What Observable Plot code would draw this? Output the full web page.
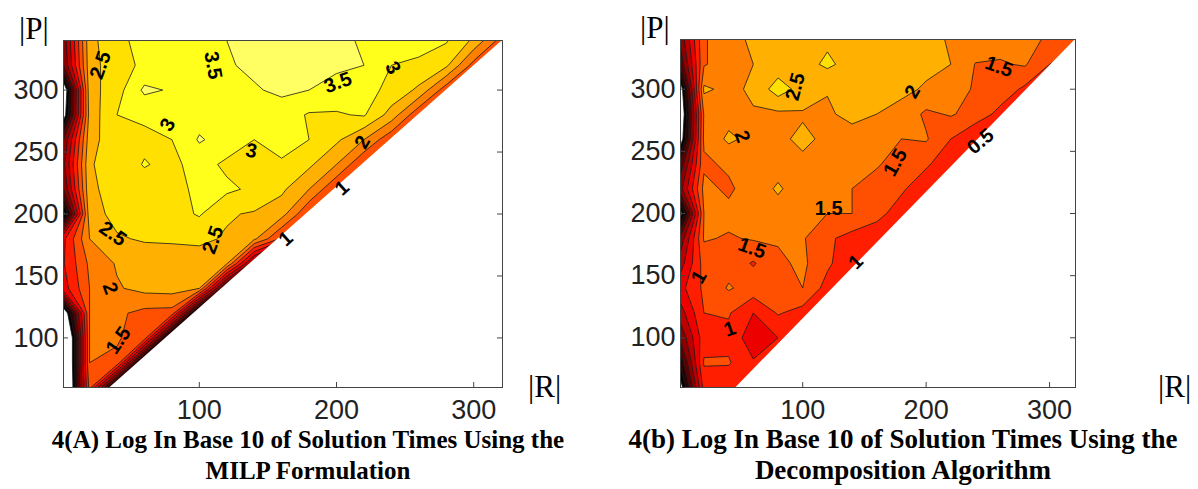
<!DOCTYPE html>
<html><head><meta charset="utf-8">
<script src="https://cdn.jsdelivr.net/npm/d3@7"></script>
<script src="https://cdn.jsdelivr.net/npm/@observablehq/plot@0.6"></script>
<style>
body{margin:0;background:#fff;width:1198px;height:489px;overflow:hidden;position:relative}
.chart{position:absolute;top:0}
#overlay{position:absolute;left:0;top:0;pointer-events:none}
</style></head><body>
<div id="A" class="chart" style="left:0px"></div>
<div id="B" class="chart" style="left:600px"></div>
<svg id="overlay" width="1198" height="489"></svg>
<script>
// regular grid: |R| = 0,20,...,320 (columns), |P| = 340,320,...,60 (rows)
const Rvals = d3.range(0, 321, 20);
const Pvals = d3.range(340, 59, -20);
// log10 solution times, MILP formulation
const zMILP = [
 [-1.0,2.35,2.85,3.2,3.45,3.4,3.5,3.7,3.75,3.7,3.6,3.45,3.4,3.2,3.05,2.4,1.3],
 [-1.2,2.3,2.8,3.1,3.3,3.35,3.45,3.6,3.7,3.65,3.6,3.5,3.0,2.9,2.6,1.3,1.2],
 [-3.5,2.3,2.8,3.6,3.45,3.3,3.4,3.45,3.6,3.5,3.3,3.2,2.85,2.4,1.2,1.1,1.1],
 [-3.2,2.2,3.0,3.08,3.2,3.3,3.3,3.3,3.25,2.95,2.95,3.05,2.3,1.1,1.0,1.0,1.0],
 [-1.2,2.3,2.85,2.9,3.0,3.55,3.3,3.0,3.15,3.0,2.6,2.0,1.1,1.0,1.0,1.0,1.0],
 [-0.8,2.45,2.75,3.03,2.88,3.2,2.9,2.8,2.95,2.6,2.0,1.0,1.0,1.0,1.0,1.0,1.0],
 [-1.2,2.4,2.7,2.8,2.85,3.1,3.1,2.9,2.6,2.0,1.0,1.0,1.0,1.0,1.0,1.0,1.0],
 [-3.0,2.3,2.65,2.75,2.8,3.05,2.55,2.45,2.2,1.0,1.0,1.0,1.0,1.0,1.0,1.0,1.0],
 [0.3,2.0,2.45,2.55,2.55,2.6,2.45,2.1,0.9,0.9,0.9,0.9,0.9,0.9,0.9,0.9,0.9],
 [0.4,1.6,2.05,2.2,2.3,2.25,2.05,-1.0,-4.0,-4.0,-4.0,-4.0,-4.0,-4.0,-4.0,-4.0,-4.0],
 [0.2,1.5,1.95,2.15,2.2,2.0,-2.0,-6.0,-6.0,-6.0,-6.0,-6.0,-6.0,-6.0,-6.0,-6.0,-6.0],
 [-3.5,1.5,1.6,1.35,1.3,-3.0,-7.0,-7.0,-7.0,-7.0,-7.0,-7.0,-7.0,-7.0,-7.0,-7.0,-7.0],
 [-4.9,1.5,1.55,1.25,-3.0,-7.0,-7.0,-7.0,-7.0,-7.0,-7.0,-7.0,-7.0,-7.0,-7.0,-7.0,-7.0],
 [-4.9,1.5,1.4,-3.0,-7.0,-7.0,-7.0,-7.0,-7.0,-7.0,-7.0,-7.0,-7.0,-7.0,-7.0,-7.0,-7.0],
 [-4.9,1.2,-3.0,-7.0,-7.0,-7.0,-7.0,-7.0,-7.0,-7.0,-7.0,-7.0,-7.0,-7.0,-7.0,-7.0,-7.0]
];
// log10 solution times, decomposition algorithm
const zDecomp = [
 [-1.0,1.45,1.8,2.1,2.2,2.3,2.4,2.35,2.3,2.25,2.15,1.95,1.8,1.7,1.6,1.45,1.1],
 [-1.5,1.45,1.8,2.0,2.2,2.3,2.6,2.3,2.25,2.2,2.1,2.0,1.48,1.45,1.55,1.0,0.8],
 [-3.2,2.1,1.85,2.1,2.75,2.3,2.02,2.2,2.15,2.1,1.95,1.7,1.45,1.3,0.9,0.8,0.8],
 [-3.5,1.55,1.8,1.95,1.9,1.95,1.95,2.1,2.0,1.85,1.4,1.55,1.3,0.85,0.8,0.8,0.8],
 [-3.2,1.6,2.1,1.85,1.9,2.1,1.9,1.85,1.8,1.5,1.55,1.0,0.5,0.5,0.5,0.5,0.5],
 [-1.5,1.4,1.6,1.8,1.85,1.9,2.0,1.5,1.55,1.3,1.1,0.6,0.6,0.6,0.6,0.6,0.6],
 [-0.8,1.65,1.4,1.8,2.05,1.8,1.75,1.5,1.3,1.1,0.6,0.6,0.6,0.6,0.6,0.6,0.6],
 [-3.0,1.5,1.65,1.8,1.85,1.65,1.5,1.5,1.2,0.7,0.7,0.7,0.7,0.7,0.7,0.7,0.7],
 [-1.0,1.55,1.45,1.55,1.55,1.55,1.1,0.8,0.6,0.6,0.6,0.6,0.6,0.6,0.6,0.6,0.6],
 [-0.3,1.2,1.3,0.95,1.4,1.6,1.1,0.6,0.6,0.6,0.6,0.6,0.6,0.6,0.6,0.6,0.6],
 [0.3,1.1,1.55,1.3,1.2,1.5,0.8,0.6,0.6,0.6,0.6,0.6,0.6,0.6,0.6,0.6,0.6],
 [-0.3,1.0,1.05,0.5,1.05,0.8,0.6,0.6,0.6,0.6,0.6,0.6,0.6,0.6,0.6,0.6,0.6],
 [-1.0,0.8,0.85,0.2,0.5,0.6,0.6,0.6,0.6,0.6,0.6,0.6,0.6,0.6,0.6,0.6,0.6],
 [-2.0,1.05,1.05,0.55,0.6,0.6,0.6,0.6,0.6,0.6,0.6,0.6,0.6,0.6,0.6,0.6,0.6],
 [-3.0,0.7,0.6,0.6,0.6,0.6,0.6,0.6,0.6,0.6,0.6,0.6,0.6,0.6,0.6,0.6,0.6]
];
// edge of the feasible region (|P| vs |R|)
const diagMILP_R = [35, 321], diagMILP_P = [60, 340];
const diagDec_R = [46, 321], diagDec_P = [60, 340];
// contour labels
const labMILP_t = ["2.5","3.5","3.5","3","3","3","2","1","1","2.5","2.5","2","1.5"];
const labMILP_R = [28,110,201,241,77,138,219,204,163,37,110,35,41];
const labMILP_P = [320,320,306,318,272,251,258,221,180,184,179,140,98];
const labMILP_a = [-70,80,-20,60,-60,10,-60,-42,-42,35,-70,70,-55];
const labDec_t = ["2.5","2","1.5","2","0.5","1.5","1.5","1.5","1","1","1"];
const labDec_R = [94,189,259,51,244,175,121,59,143,16,41];
const labDec_P = [302,298,318,262,258,241,204,172,161,149,107];
const labDec_a = [-75,-60,20,70,-40,-60,0,20,-45,-60,-20];
const xTicks = [100,200,300];
const yTicks = [100,150,200,250,300];
const levels = d3.range(-2.5, 4.01, 0.5);

// MATLAB "hot" colormap (64 entries)
function hot(t){
  const k = t*64;
  const c = v => Math.round(255*Math.min(1, Math.max(0, v)));
  return `rgb(${c(k/24)},${c((k-24)/24)},${c((k-48)/16)})`;
}

function chart(z, dR, dP, lt, lR, lP, la, m){
  const flat = z.flat();
  const diag = dR.map((r,i)=>({R:r, P:dP[i]}));
  const labels = lt.map((t,i)=>({t, R:lR[i], P:lP[i], a:la[i]}));
  const fw = m.width - m.marginLeft - m.marginRight;
  const fh = m.height - m.marginTop - m.marginBottom;
  const step = Rvals[1]-Rvals[0];
  return Plot.plot({
    ...m,
    x: {domain:[1,321]},
    y: {domain:[60,340]},
    color: {type:"linear", domain:[-2.44,4.57], interpolate: hot, clamp:true},
    style: {fontFamily:"'Liberation Sans', Arial, sans-serif", color:"#222", background:"transparent"},
    marks: [
      Plot.contour(flat, {width: Rvals.length, height: Pvals.length,
        x1: Rvals[0]-step/2, x2: Rvals[Rvals.length-1]+step/2,
        y1: Pvals[0]+step/2, y2: Pvals[Pvals.length-1]-step/2,
        fill: Plot.identity, thresholds: levels, stroke:"#1a1a1a", strokeWidth:0.8, clip:true}),
      Plot.areaY(diag, {x:"R", y:"P", fill:"white"}),
      Plot.text(labels, {x:"R", y:"P", text:"t", rotate:"a", fontSize:20, fontWeight:"bold", fill:"#000"}),
      Plot.frame({stroke:"#444", strokeWidth:1}),
      Plot.tickX(xTicks, {x:d=>d, insetTop: fh-5, stroke:"#444"}),
      Plot.tickY(yTicks, {y:d=>d, insetRight: fw-5, stroke:"#444"}),
      Plot.tickY(yTicks, {y:d=>d, insetLeft: fw-5, stroke:"#444"}),
      Plot.axisX({ticks:xTicks, tickSize:0, tickPadding:12, fontSize:27, label:null}),
      Plot.axisY({ticks:yTicks, tickSize:0, tickPadding:5, fontSize:27, label:null})
    ]
  });
}

document.getElementById("A").append(chart(zMILP, diagMILP_R, diagMILP_P, labMILP_t, labMILP_R, labMILP_P, labMILP_a,
  {width:599, height:425, marginLeft:63, marginRight:97, marginTop:40, marginBottom:38}));
document.getElementById("B").append(chart(zDecomp, diagDec_R, diagDec_P, labDec_t, labDec_R, labDec_P, labDec_a,
  {width:598, height:425, marginLeft:80, marginRight:123, marginTop:39, marginBottom:38}));

// axis names and captions
const ov = d3.select("#overlay");
const serif = "'Liberation Serif','Times New Roman',serif";
[[19,39,"|P|"],[640,38,"|P|"],[528,397,"|R|"],[1158,397,"|R|"]].forEach(([x,y,t])=>
  ov.append("text").attr("x",x).attr("y",y).attr("font-family",serif).attr("font-size",31).attr("fill","#000").text(t));
[[308,448,"4(A) Log In Base 10 of Solution Times Using the",25],[308,479,"MILP Formulation",25],
 [903,448,"4(b) Log In Base 10 of Solution Times Using the",27],[903,479,"Decomposition Algorithm",27]].forEach(([x,y,t,s])=>
  ov.append("text").attr("x",x).attr("y",y).attr("text-anchor","middle").attr("font-family",serif)
    .attr("font-weight","bold").attr("font-size",s).attr("fill","#000").text(t));
</script>
</body></html>
